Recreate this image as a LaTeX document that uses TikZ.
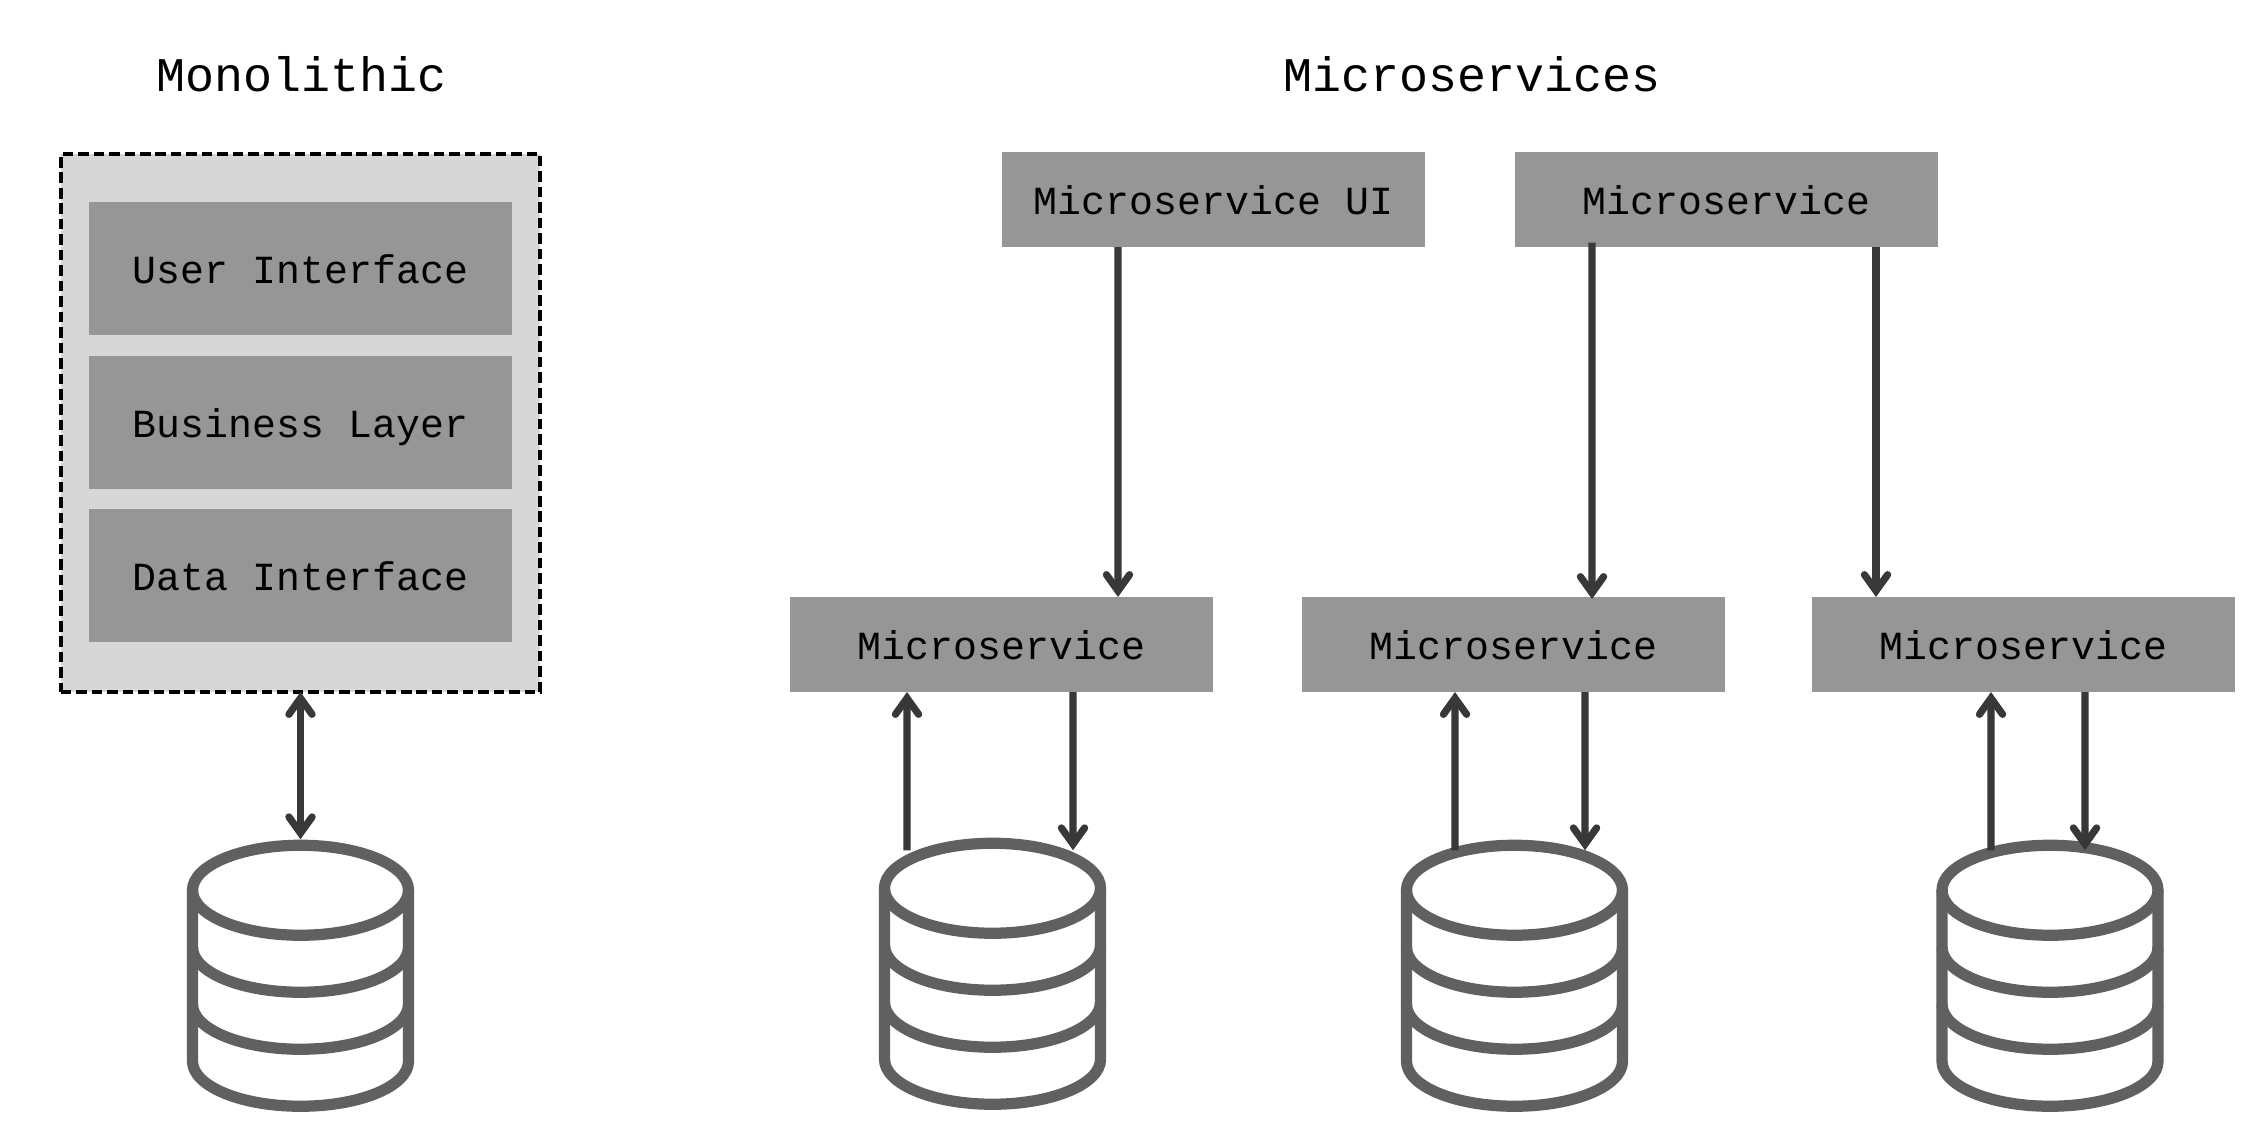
\documentclass[tikz,border=0pt]{standalone}
\usepackage{fontspec}
\setmainfont{Liberation Mono}
\usepackage{xcolor}
\usetikzlibrary{arrows.meta,positioning}
\definecolor{panel}{HTML}{D7D7D7}
\definecolor{block}{HTML}{969696}
\definecolor{flowline}{HTML}{383838}
\definecolor{dbline}{HTML}{606060}
\newcommand{\dbstack}[1]{%
  \begin{scope}[shift={(#1.north)},line width=3.2pt,draw=dbline]
    \draw (0,-.51) ellipse (1.08 and .45);
    \draw (-1.08,-.51)--(-1.08,-2.22) arc (180:360:1.08 and .45)--(1.08,-.51);
    \draw (-1.08,-1.08) arc (180:360:1.08 and .45);
    \draw (-1.08,-1.65) arc (180:360:1.08 and .45);
  \end{scope}}

\begin{document}
\begin{tikzpicture}[>={Straight Barb[length=4.6pt,width=6.6pt,line cap=round,line join=miter]}]
      \tikzstyle{heading}=[font=\fontsize{13.75}{16}\selectfont,text height=9.5pt,text depth=0pt,inner sep=0pt]
      \tikzstyle{monobox}=[draw=black,fill=panel,line width=1.25pt,dash pattern=on 3pt off 1.4pt,inner sep=0pt,outer sep=0pt,minimum width=4.795cm,minimum height=5.38cm]
      \tikzstyle{layer}=[fill=block,font=\fontsize{11.35}{14}\selectfont,text height=8.8pt,text depth=0pt,inner sep=0pt,outer sep=0pt,minimum width=4.23cm,minimum height=1.33cm]
      \tikzstyle{service}=[layer,minimum height=.95cm]
      \tikzstyle{dbase}=[inner sep=0pt,outer sep=0pt,minimum width=2.27cm,minimum height=2.725cm]
      \tikzstyle{flow}=[draw=flowline,line width=2.05pt]
      \useasboundingbox (0,0) rectangle (22.66,-11.34);
      \node[heading](mono-title) at (3.015,-.75){Monolithic};
      \node[heading](micro-title) at (14.72,-.75){Microservices};
      \node[monobox](mono) at (3.005,-4.23){};
      \node[layer](user) at (3.005,-2.685){User Interface};
      \node[layer,below=.205cm of user](business){Business Layer};
      \node[layer,below=.205cm of business](data){Data Interface};
      \node[service](ms-ui) at (12.135,-1.995){Microservice UI};
      \node[service,right=.9cm of ms-ui](ms-top){Microservice};
      \node[service](ms-a) at (10.015,-6.445){Microservice};
      \node[service,right=.89cm of ms-a](ms-b){Microservice};
      \node[service,right=.87cm of ms-b](ms-c){Microservice};
      \node[dbase](db-m) at (3.005,-9.755){};
      \node[dbase](db-a) at (9.925,-9.735){};
      \node[dbase](db-b) at (15.145,-9.755){};
      \node[dbase](db-c) at (20.5,-9.755){};
      \dbstack{db-m}
      \dbstack{db-a}
      \dbstack{db-b}
      \dbstack{db-c}
      \draw[flow,<->](mono.south)--(db-m.north);
      \draw[flow,->]([xshift=-.955cm]ms-ui.south)--([xshift=1.165cm]ms-a.north);
      \draw[flow,->]([xshift=-1.345cm,yshift=.045cm]ms-top.south)--([xshift=.785cm,yshift=-.02cm]ms-b.north);
      \draw[flow,->]([xshift=1.495cm]ms-top.south)--([xshift=-1.475cm]ms-c.north);
      \draw[flow,->]([xshift=-.855cm,yshift=-.13cm]db-a.north)--([xshift=-.945cm]ms-a.south);
      \draw[flow,->]([xshift=.715cm]ms-a.south)--([xshift=.805cm,yshift=-.13cm]db-a.north);
      \draw[flow,->]([xshift=-.595cm,yshift=-.11cm]db-b.north)--([xshift=-.585cm]ms-b.south);
      \draw[flow,->]([xshift=.715cm]ms-b.south)--([xshift=.705cm,yshift=-.11cm]db-b.north);
      \draw[flow,->]([xshift=-.59cm,yshift=-.11cm]db-c.north)--([xshift=-.325cm]ms-c.south);
      \draw[flow,->]([xshift=.615cm]ms-c.south)--([xshift=.35cm,yshift=-.11cm]db-c.north);
    \end{tikzpicture}
\end{document}
